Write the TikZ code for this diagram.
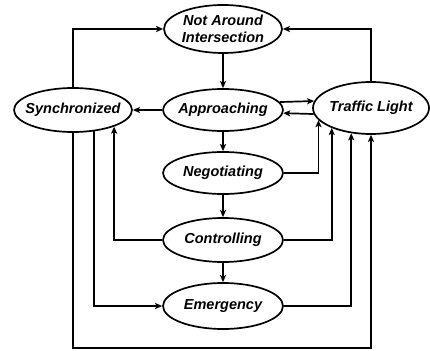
\documentclass[tikz,border=0pt]{standalone}
\usepackage{fontspec}
\setmainfont{Liberation Sans}
\usetikzlibrary{shapes.geometric,arrows.meta}

\begin{document}
\begin{tikzpicture}[x=1pt,y=-1pt,
		state/.style={ellipse, draw, line width=1.7pt, inner xsep=-8pt, inner ysep=0pt,
			minimum width=118pt, minimum height=44pt, align=center,
			font=\fontsize{14.5}{17}\selectfont\bfseries\itshape},
		trans/.style={line width=1.7pt, -{Stealth[length=7pt,width=6pt,inset=1.5pt]}}]
		\useasboundingbox ( 0, 0 ) rectangle ( 430, 350 );

		% состояния
		\node [state, minimum height=48pt] (nai) at ( 223,  29 ) {Not Around\\Intersection};
		\node [state, minimum width=120pt, minimum height=42pt] (app) at ( 223, 110 ) {Approaching};
		\node [state, minimum width=120pt, minimum height=42pt] (neg) at ( 223, 173 ) {Negotiating};
		\node [state, minimum width=120pt] (ctrl) at ( 223, 240 ) {Controlling};
		\node [state, minimum width=120pt, minimum height=46pt] (emg) at ( 223, 306 ) {Emergency};
		\node [state] (sync) at (  73, 110 ) {Synchronized};
		\node [state, minimum width=116pt, minimum height=52pt] (tl) at ( 371, 108 ) {Traffic Light};

		% нижняя линия
		\coordinate (low) at ( 0, 348 );

		% переходы вверх
		\draw [trans] (sync.north) |- (nai.west);
		\draw [trans] (tl.north) |- (nai.east);

		% средняя колонка
		\draw [trans] (nai.south) -- (app.north);
		\draw [trans] (app.south) -- (neg.north);
		\draw [trans] (neg.south) -- (ctrl.north);
		\draw [trans] (ctrl.south) -- (emg.north);

		% approaching
		\draw [trans] (app.west) -- (sync.east);
		\draw [trans] (app.8.2) -- (tl.173.9);
		\draw [trans] (tl.186.1) -- (app.-3.9);

		% к traffic light
		\draw [trans] (neg.east) -| (tl.193.7);
		\draw [trans] (ctrl.east) -| (tl.207.3);
		\draw [trans] (emg.east) -| (tl.232.3);
		\draw [trans] (sync.south) -- (sync.south |- low) -| (tl.south);

		% к synchronized и emergency
		\draw [trans] (ctrl.west) -| (sync.-22);
		\draw [trans] (sync.-46) |- (emg.west);
	\end{tikzpicture}
\end{document}
